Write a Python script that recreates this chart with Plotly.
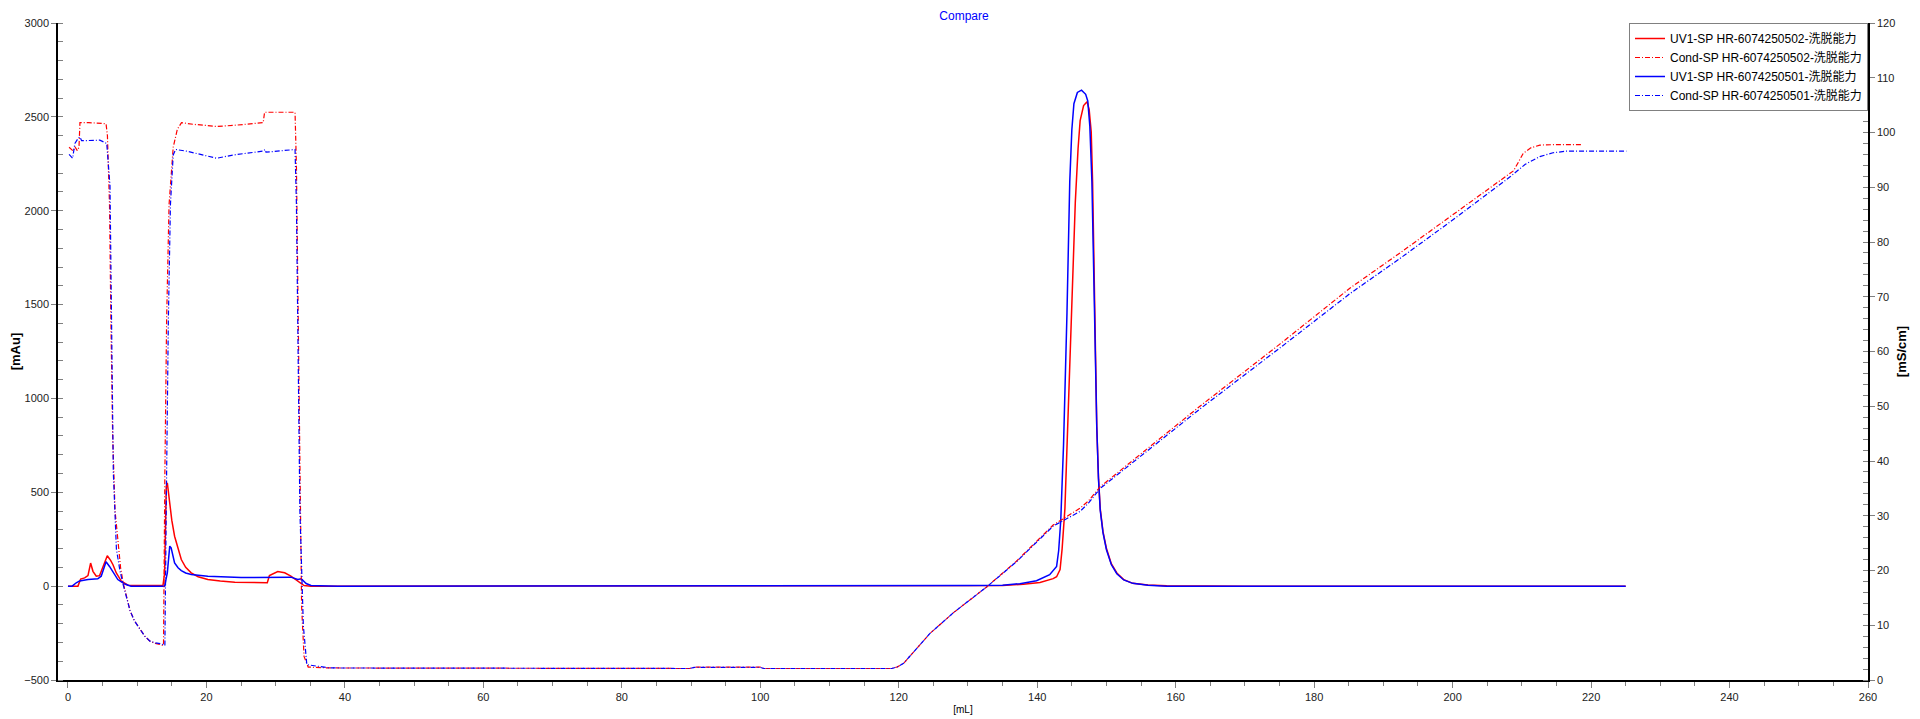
import plotly.graph_objects as go

# ---------------- data ----------------
uv_502_x = [0, 1.44, 1.83, 2.41, 2.89, 3.27, 3.61, 4.09, 4.57, 5.2, 5.68, 6.16, 6.5, 6.98, 7.7, 8.67, 10.1,
            13.72, 13.96, 14.2, 14.35, 14.7, 15.0, 15.4, 15.9, 16.37, 17.0, 17.8, 18.8, 20.2, 22.0, 24.1,
            28.79, 29.1, 30.3, 31.3, 32.2, 33.2, 34.1, 35.1, 40, 60, 80, 100, 120, 130, 135, 138, 140.4,
            142.3, 142.8, 143.3, 143.6, 144.0, 144.5, 145.0, 145.5, 145.9, 146.2, 146.7, 147.2, 147.5,
            147.8, 148.0, 148.2, 148.4, 148.6, 148.85, 149.1, 149.5, 150.0, 150.7, 151.5, 152.5, 153.8,
            156.0, 158.7, 170, 200, 225]
uv_502_y = [0, 0, 38, 44, 56, 123, 79, 53, 56, 123, 162, 137, 114, 70, 27, 5, 3.5,
            3.5, 70, 532, 550, 444, 350, 266, 195, 142, 100, 71, 50, 35, 27, 21,
            18, 56, 78, 71, 53, 27, 3.5, 0, 0, 0, 0, 1, 0, 3, 4, 10, 20,
            40, 50, 88, 200, 413, 957, 1609, 2043, 2330, 2480, 2560, 2581, 2540,
            2420, 2150, 1718, 1250, 850, 580, 413, 290, 200, 120, 70, 35, 15,
            6, 2, 0, 0, 0]

uv_501_x = [0, 0.6, 1.2, 1.68, 2.9, 4.3, 4.8, 5.5, 6.0, 6.5, 7.2, 8.2, 9.1, 13.96, 14.35, 14.7, 14.9,
            15.4, 15.9, 16.37, 17.0, 17.8, 20.2, 25.0, 28.9, 29.4, 32.2, 33.2, 33.7, 34.4, 35.1, 39, 60,
            88, 90, 100, 101, 120, 130, 135, 137.5, 139.9, 141.8, 142.8, 143.1, 143.4, 143.8, 144.3,
            144.7, 145.0, 145.3, 145.8, 146.4, 147.0, 147.3, 147.6, 147.9, 148.2, 148.4, 148.6, 148.85,
            149.1, 149.5, 150.0, 150.7, 151.5, 152.5, 153.8, 156.0, 158.7, 200, 225]
uv_501_y = [0, 0, 18, 28, 35, 39, 53, 130, 105, 73, 35, 11, 0, 0, 71, 213, 204,
            124, 98, 83, 70, 62, 53, 46, 46, 50, 48, 35, 39, 14, 3.5, 0, 0,
            0, 3, 3, 0, 0, 3, 5, 13, 29, 61, 105, 190, 350, 750, 1457,
            2155, 2430, 2570, 2630, 2642, 2620, 2585, 2450, 2155, 1600, 1200, 850, 570,
            405, 285, 194, 115, 66, 33, 15, 5, 0, 0, 0]

cond_502_x = [0.16, 0.5, 0.77, 1.0, 1.35, 1.59, 1.73, 3.0, 5.5, 5.7, 6.0, 6.2, 6.45, 6.8, 7.3, 7.6, 8.0,
              8.5, 8.96, 9.6, 10.4, 11.1, 11.84, 12.6, 13.5, 13.8, 14.0, 14.25, 14.6, 15.2, 15.8, 16.4,
              18.1, 21.5, 23.9, 28.2, 28.4, 32.8, 33.0, 33.3, 33.5, 33.75, 34.1, 34.7, 37.8, 60, 89.8,
              90.5, 100, 100.5, 119.0, 119.8, 120.7, 121.5, 122.5, 124.5, 128, 132.7, 137, 142.3,
              146.2, 147.4, 149.1, 163.5, 175, 185.2, 192.4, 200, 208.8, 209.6, 210.2, 211.3, 212.6,
              215, 218.7]
cond_502_y = [97.3, 97.0, 96.6, 97.4, 96.7, 97.3, 101.8, 101.8, 101.6, 99.4, 86.8, 65.8, 44.9, 30.9, 23.9, 20.5,
              17.6, 14.9, 12.7, 10.8, 9.2, 8.0, 7.1, 6.7, 6.4, 6.3, 37.9, 65.8, 86.8, 97.3, 100.6, 101.8,
              101.5, 101.1, 101.3, 101.8, 103.7, 103.7, 93.8, 58.8, 30.9, 13.4, 4.3, 2.36, 2.2, 2.15, 2.1,
              2.35, 2.35, 2.1, 2.1, 2.4, 3.05, 4.2, 5.6, 8.5, 12.4, 17.0, 21.7, 28.3,
              31.4, 32.7, 35.3, 50.0, 61.3, 71.6, 78.0, 85.0, 93.0, 94.8, 96.2, 97.2, 97.7,
              97.8, 97.8]

cond_501_x = [0.16, 0.67, 1.0, 1.5, 1.73, 1.97, 4.6, 5.6, 6.07, 6.3, 6.55, 7.0, 7.5, 8.0, 8.5, 8.96, 9.6,
              10.4, 11.1, 11.84, 12.6, 13.5, 14.0, 14.25, 14.5, 14.8, 15.2, 15.55, 17.1, 21.5, 23.9,
              28.2, 28.5, 28.6, 32.8, 33.0, 33.3, 33.5, 34.0, 34.5, 37.8, 60, 89.8, 90.5, 100, 100.5,
              119.0, 119.8, 120.7, 121.5, 122.5, 124.5, 128, 132.7, 137, 142.3, 146.2, 147.4, 149.1,
              163.5, 175, 185.2, 192.4, 200, 208.3, 210.5, 212.6, 214.5, 216.5, 225.1]
cond_501_y = [96.0, 95.3, 98.0, 99.0, 99.2, 98.5, 98.6, 98.0, 90.3, 65.8, 37.9, 23.9, 20.0, 17.3, 14.8, 12.7, 10.8,
              9.2, 8.0, 7.1, 6.8, 6.6, 6.3, 37.9, 65.8, 86.8, 95.9, 96.9, 96.6, 95.3, 95.9,
              96.6, 96.9, 96.4, 96.9, 86.8, 51.8, 30.9, 9.9, 2.8, 2.2, 2.15, 2.1, 2.3, 2.3, 2.1,
              2.1, 2.4, 3.05, 4.2, 5.6, 8.5, 12.4, 17.0, 21.6, 28.1, 30.8, 32.3, 35.0,
              49.5, 60.6, 70.6, 77.0, 84.0, 91.9, 94.2, 95.6, 96.3, 96.6, 96.6]

names = ["UV1-SP HR-6074250502-洗脱能力", "Cond-SP HR-6074250502-洗脱能力",
         "UV1-SP HR-6074250501-洗脱能力", "Cond-SP HR-6074250501-洗脱能力"]

RED = "#FF0000"
BLUE = "#0000FF"
DASHDOT = "5px,2px,1px,2px"
FONT = "Liberation Sans, Arial, Noto Sans CJK SC, sans-serif"

fig = go.Figure()
fig.add_trace(go.Scatter(x=uv_502_x, y=uv_502_y, name=names[0], mode="lines",
                         line=dict(color=RED, width=1.5), yaxis="y"))
fig.add_trace(go.Scatter(x=cond_502_x, y=cond_502_y, name=names[1], mode="lines",
                         line=dict(color=RED, width=1.2, dash=DASHDOT), yaxis="y2"))
fig.add_trace(go.Scatter(x=uv_501_x, y=uv_501_y, name=names[2], mode="lines",
                         line=dict(color=BLUE, width=1.5), yaxis="y"))
fig.add_trace(go.Scatter(x=cond_501_x, y=cond_501_y, name=names[3], mode="lines",
                         line=dict(color=BLUE, width=1.2, dash=DASHDOT), yaxis="y2"))

tickfont = dict(family=FONT, size=11, color="#222")

# the page body adds an 8px offset, so the figure is sized 1912x711
W, H = 1912, 711
fig.update_layout(
    width=W, height=H,
    margin=dict(l=50, r=52, t=15, b=39, pad=0, autoexpand=False),
    paper_bgcolor="white", plot_bgcolor="white",
    font=dict(family=FONT, size=11, color="#000"),
    title=dict(text="Compare", x=0.5, xanchor="center", y=1 - 8 / H, yanchor="middle",
               font=dict(family=FONT, size=12, color="#0000FF")),
    showlegend=True,
    legend=dict(x=1, y=1, xanchor="right", yanchor="top", bgcolor="white",
                bordercolor="#808080", borderwidth=1, tracegroupgap=0,
                font=dict(family=FONT, size=12, color="#000"),
                itemwidth=30),
    xaxis=dict(range=[-1.44, 260], tick0=0, dtick=20, showgrid=False, zeroline=False,
               showline=True, linecolor="black", linewidth=1.5, automargin=False,
               ticks="outside", ticklen=6, tickcolor="#808080", tickfont=tickfont,
               minor=dict(dtick=5, ticks="outside", ticklen=4, tickcolor="#808080"),
               title=dict(text="[mL]", font=dict(family=FONT, size=10, color="#000"), standoff=4)),
    yaxis=dict(range=[-500, 3000], dtick=500, showgrid=False, zeroline=False,
               showline=True, linecolor="black", linewidth=1.5, automargin=False,
               ticks="outside", ticklen=5, tickcolor="#808080", tickfont=tickfont,
               minor=dict(dtick=100, ticks="inside", ticklen=5, tickcolor="#808080"),
               title=dict(text="<b>[mAu]</b>", font=dict(family=FONT, size=13, color="#000"), standoff=2)),
    yaxis2=dict(range=[0, 120], dtick=10, overlaying="y", side="right", showgrid=False, zeroline=False,
                showline=True, linecolor="black", linewidth=1.5, automargin=False,
                ticks="outside", ticklen=5, tickcolor="#808080", tickfont=tickfont,
                minor=dict(dtick=2, ticks="inside", ticklen=5, tickcolor="#808080"),
                title=dict(text="<b>[mS/cm]</b>", font=dict(family=FONT, size=13, color="#000"), standoff=3)),
)

fig.write_html("out.html")
